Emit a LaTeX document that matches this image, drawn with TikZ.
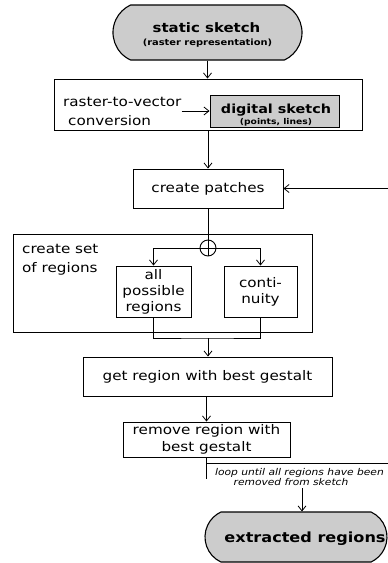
\documentclass[tikz,border=0pt]{standalone}
\usepackage{fontspec}
\setmainfont{DejaVu Sans}[FakeStretch=1.15]
\usetikzlibrary{arrows.meta,shapes.misc}
\tikzset{
  ln/.style={line width=0.8pt},
  arr/.style={ln,-{Straight Barb[length=5pt,width=8pt]}},
  box/.style={draw,line width=0.9pt,rectangle,inner sep=0pt,align=center,font=\fontsize{13.2}{16}\selectfont},
  term/.style={draw,line width=1.1pt,fill=gray!40,rounded rectangle,rounded rectangle arc length=130,inner sep=0pt},
  txt/.style={inner sep=0pt,font=\fontsize{13.2}{16}\selectfont},
  bold/.style={inner sep=0pt},
}
\begin{document}
\begin{tikzpicture}[x=1pt,y=-1pt]
\useasboundingbox (0,0) rectangle (388,563);
\clip (0,0) rectangle (388,563);
% start terminal
\node[term,minimum width=189pt,minimum height=55pt] (static) at (207.5,32.5) {};
\node[bold,anchor=base,font=\fontsize{13}{13}\selectfont\bfseries] (st1) at (206.5,32) {static sketch};
\node[bold,anchor=base,font=\fontsize{8.6}{9}\selectfont\bfseries] (st2) at (207.5,45) {(raster representation)};
% conversion
\node[box,minimum width=308pt,minimum height=51pt] (conv) at (208,104.5) {};
\node[txt,anchor=base west] (cv1) at (63,106.5) {raster-to-vector};
\node[txt,anchor=base west] (cv2) at (68,125.5) {conversion};
\node[draw,line width=0.9pt,fill=gray!40,minimum width=129pt,minimum height=32pt,inner sep=0pt] (digital) at (274.5,111) {};
\node[bold,anchor=base,font=\fontsize{12.5}{13}\selectfont\bfseries] (dg1) at (276,113) {digital sketch};
\node[bold,anchor=base,font=\fontsize{8}{8}\selectfont\bfseries] (dg2) at (276,124) {(points, lines)};
\draw[arr] (cv1.east |- digital.west) -- (digital.west);
% patches
\node[box,minimum width=150pt,minimum height=39pt] (patches) at (208,188.5) {create patches};
% set of regions
\node[draw,line width=0.9pt,minimum width=299pt,minimum height=98pt,inner sep=0pt] (setbox) at (162.5,283) {};
\node[txt,anchor=base west] (sr1) at (22,253) {create set};
\node[txt,anchor=base west] (sr2) at (22,272) {of regions};
\node[draw,circle,line width=0.9pt,minimum size=16pt,inner sep=0pt] (xor) at (208,248) {};
\draw[ln] (xor.north) -- (xor.south) (xor.west) -- (xor.east);
\node[box,minimum width=75pt,minimum height=51pt] (allposs) at (153.5,291.5) {all\\possible\\regions};
\node[box,minimum width=73pt,minimum height=51pt] (cont) at (260.5,291.5) {conti-\\nuity};
\coordinate (join) at (208,338);
% gestalt
\node[box,minimum width=249pt,minimum height=39pt] (getreg) at (207.5,376.5) {get region with best gestalt};
\node[box,minimum width=167pt,minimum height=35pt,font=\fontsize{13.2}{17}\selectfont] (remove) at (206.5,439.5) {remove region with\\best gestalt};
% end terminal
\node[term,minimum width=182pt,minimum height=50pt] (extr) at (296,537) {};
\node[bold,anchor=base,font=\fontsize{14}{14}\selectfont\bfseries] (ex1) at (305,542) {extracted regions};
% loop label
\node[inner sep=0pt,anchor=base,font=\fontsize{9.3}{10}\selectfont\itshape] (lp1) at (299.5,475.5) {loop until all regions have been};
\node[inner sep=0pt,anchor=base,font=\fontsize{9.3}{10}\selectfont\itshape] (lp2) at (291,485.5) {removed from sketch};
\coordinate (lb) at (206.5,479);
\coordinate (lr) at (389,463);
\coordinate (la) at (302,488);
% connectors
\draw[arr] (static.south) -- (static.south |- conv.north);
\draw[arr] (conv.south) -- (conv.south |- patches.north);
\draw[ln] (patches.south) -- (xor.north);
\draw[arr] (xor.west) -| (allposs.north);
\draw[arr] (xor.east) -| (cont.north);
\draw[ln] (allposs.south) |- (join) -| (cont.south);
\draw[arr] (join) -- (join |- getreg.north);
\draw[arr] (getreg.south -| remove.north) -- (remove.north);
\draw[ln] (remove.south) -- (lb);
\draw[arr] (remove.south |- lr) -- (lr) |- (patches.east);
\draw[arr] (la) -- (la |- extr.north);
\end{tikzpicture}
\end{document}
